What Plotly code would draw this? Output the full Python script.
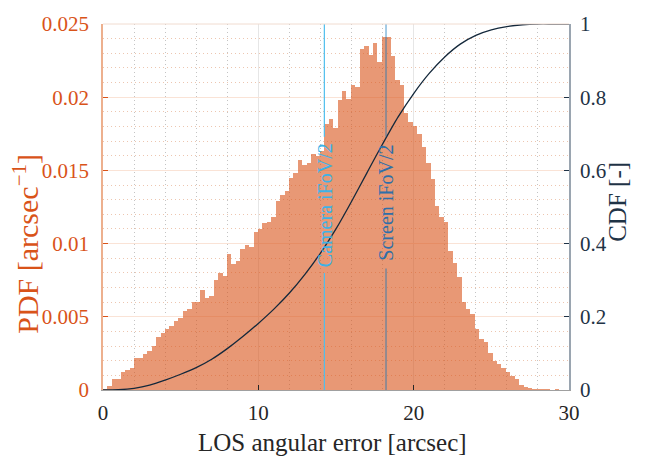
import plotly.graph_objects as go

# ---------------- data ----------------
bin_start = 0.0
bin_width = 0.285
pdf_values = [
    0.0001, 0.0003, 0.00072, 0.00078, 0.00124, 0.0014, 0.0015, 0.0022, 0.0022, 0.00243,
    0.00264, 0.0030, 0.0036, 0.0039, 0.0042, 0.0044, 0.0047, 0.0049, 0.0054, 0.0055,
    0.0060, 0.0060, 0.0068, 0.0063, 0.0064, 0.0075, 0.0080, 0.0078, 0.0093, 0.0086,
    0.0088, 0.0096, 0.0099, 0.0098, 0.0108, 0.0110, 0.0114, 0.0115, 0.0118, 0.0129,
    0.0133, 0.0136, 0.0145, 0.0148, 0.0157, 0.0154, 0.0155, 0.0161, 0.0160, 0.0163,
    0.0182, 0.0185, 0.0179, 0.0198, 0.0204, 0.0199, 0.0208, 0.0207, 0.0233, 0.0235,
    0.0229, 0.0237, 0.0224, 0.0241, 0.0241, 0.0228, 0.0212, 0.0208, 0.0189, 0.0183,
    0.0180, 0.0175, 0.0166, 0.0155, 0.0144, 0.0126, 0.0118, 0.0115, 0.0095, 0.0087,
    0.0077, 0.0060, 0.0055, 0.0052, 0.0042, 0.0035, 0.0033, 0.0025, 0.0020, 0.0018,
    0.0015, 0.0012, 0.00095, 0.00075, 0.00034, 0.00023, 0.00016, 0.0001, 0.00007, 0.00007,
    0.00004, 0.00003, 0.00007,
]

cdf_x = [0, 1, 2, 3, 4, 5, 6, 7, 8, 9, 10, 11, 12, 13, 14, 15, 16, 17, 18, 19,
         20, 21, 22, 23, 24, 25, 26, 27, 28, 29, 30]
cdf_values = [0.0, 0.0007, 0.0045, 0.013, 0.027, 0.043, 0.061, 0.084, 0.113, 0.146,
              0.182, 0.221, 0.265, 0.316, 0.374, 0.440, 0.515, 0.594, 0.672, 0.746,
              0.810, 0.865, 0.910, 0.945, 0.969, 0.984, 0.993, 0.998, 1.0, 1.0, 1.0]

camera_ifov_half = 14.25
screen_ifov_half = 18.22

x_ticks = [0, 10, 20, 30]
y_ticks = [0, 0.005, 0.01, 0.015, 0.02, 0.025]
y_ticklabels = ["0", "0.005", "0.01", "0.015", "0.02", "0.025"]
y2_ticks = [0, 0.2, 0.4, 0.6, 0.8, 1]
y2_ticklabels = ["0", "0.2", "0.4", "0.6", "0.8", "1"]

# ---------------- figure ----------------
FONT = "Liberation Serif"
ORANGE = "#D95319"
NAVY = "#1F3346"
DARK = "#262626"

centers = [bin_start + (i + 0.5) * bin_width for i in range(len(pdf_values))]

fig = go.Figure()
fig.add_trace(go.Bar(
    x=centers, y=pdf_values, width=bin_width,
    marker=dict(color="rgba(217,83,25,0.6)", line=dict(width=0)),
    yaxis="y", hoverinfo="skip",
))
fig.add_trace(go.Scatter(
    x=cdf_x, y=cdf_values, mode="lines",
    line=dict(color="#14283B", width=1.3, shape="spline", smoothing=0.8),
    yaxis="y2", hoverinfo="skip",
))

# vertical reference lines (broken where their labels sit)
shapes = []
for xv, col, gap in [(camera_ifov_half, "#4DBEEE", (0.0080, 0.0173)),
                     (screen_ifov_half, "rgba(0,114,189,0.6)", (0.0083, 0.0173))]:
    shapes.append(dict(type="line", xref="x", yref="y", x0=xv, x1=xv, y0=0, y1=gap[0],
                       line=dict(color=col, width=1.2)))
    shapes.append(dict(type="line", xref="x", yref="y", x0=xv, x1=xv, y0=gap[1], y1=0.025,
                       line=dict(color=col, width=1.2)))
# top border of box
shapes.append(dict(type="line", xref="paper", yref="paper", x0=0, x1=1, y0=1, y1=1,
                   line=dict(color="#F1DCD0", width=1)))

annotations = [
    dict(x=camera_ifov_half, y=0.01265, xref="x", yref="y", text="Camera iFoV/2",
         textangle=-90, showarrow=False, xanchor="center", yanchor="middle",
         font=dict(family=FONT, size=20, color="#3DB2E6")),
    dict(x=screen_ifov_half, y=0.0128, xref="x", yref="y", text="Screen iFoV/2",
         textangle=-90, showarrow=False, xanchor="center", yanchor="middle",
         font=dict(family=FONT, size=20, color="#2F6FA8")),
    dict(x=-0.167, y=0.40, xref="paper", yref="paper", text="PDF [arcsec<sup>−1</sup>]",
         textangle=-90, showarrow=False, xanchor="center", yanchor="middle",
         font=dict(family=FONT, size=30, color=ORANGE)),
    dict(x=1.105, y=0.514, xref="paper", yref="paper", text="CDF [-]",
         textangle=-90, showarrow=False, xanchor="center", yanchor="middle",
         font=dict(family=FONT, size=25, color=NAVY)),
    dict(x=0.4925, y=-0.143, xref="paper", yref="paper", text="LOS angular error [arcsec]",
         showarrow=False, xanchor="center", yanchor="middle",
         font=dict(family=FONT, size=25, color=DARK)),
]

fig.update_layout(
    width=646, height=456,
    margin=dict(l=103, r=77, t=20, b=66),
    paper_bgcolor="white", plot_bgcolor="white",
    showlegend=False, bargap=0,
    shapes=shapes, annotations=annotations,
    xaxis=dict(
        range=[0, 30], tickvals=x_ticks, ticktext=[str(t) for t in x_ticks],
        ticks="inside", ticklen=5, tickcolor=DARK, tickwidth=1,
        showline=True, linecolor="#A0A0A0", linewidth=1,
        showgrid=True, gridcolor="#E6E6E6", gridwidth=1, zeroline=False,
        minor=dict(dtick=2, showgrid=True, gridcolor="#C4C4C4", griddash="1px,3px", gridwidth=1),
        tickfont=dict(family=FONT, size=21, color=DARK), ticklabelstandoff=4,
    ),
    yaxis=dict(
        range=[0, 0.025], tickvals=y_ticks, ticktext=y_ticklabels,
        ticks="inside", ticklen=5, tickcolor=ORANGE, tickwidth=1,
        showline=True, linecolor="#EDB08E", linewidth=1.5,
        showgrid=True, gridcolor="#FAE3D6", gridwidth=1, zeroline=False,
        minor=dict(dtick=0.001, showgrid=True, gridcolor="#EDC6B0", griddash="1px,3px", gridwidth=1),
        tickfont=dict(family=FONT, size=21, color=ORANGE), ticklabelstandoff=8,
    ),
    yaxis2=dict(
        range=[0, 1], tickvals=y2_ticks, ticktext=y2_ticklabels,
        overlaying="y", side="right",
        ticks="inside", ticklen=5, tickcolor=NAVY, tickwidth=1,
        showline=True, linecolor="#9AA5B0", linewidth=1.5,
        showgrid=False, zeroline=False,
        tickfont=dict(family=FONT, size=21, color=NAVY), ticklabelstandoff=5,
    ),
)

fig.write_html("out.html")
